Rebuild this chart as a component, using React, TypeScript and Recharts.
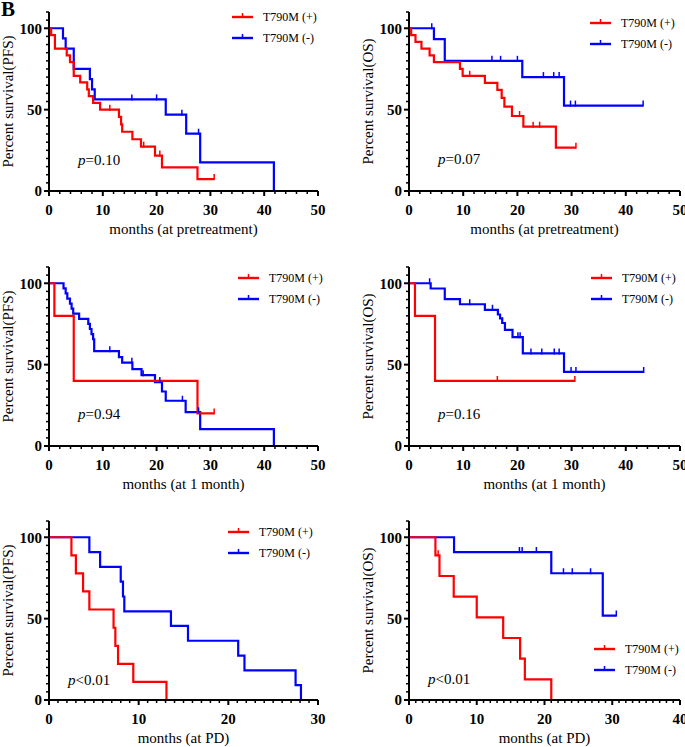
import React from 'react';
import { LineChart, Line, XAxis, YAxis } from 'recharts';

// [months, percent surviving, censored (1) or event (0)]
type Pt = [number, number, number];

const seriesNames = ['T790M (+)', 'T790M (-)'];
const yMajor = [0, 50, 100];

// PFS / OS from pretreatment
const pfsPrePos: Pt[] = [
  [0, 100, 0], [0.4, 95.8, 0], [1.1, 87.5, 0], [3.3, 83.3, 0], [3.9, 79.2, 0], [4.6, 70.8, 0],
  [5.8, 66.7, 0], [7.1, 62.5, 0], [7.4, 58.3, 0], [8.2, 54.2, 0], [9.5, 50, 0], [11.3, 50, 1],
  [13.0, 45.5, 0], [13.4, 40.9, 0], [13.6, 36.4, 0], [15.5, 31.8, 0], [17.1, 27.3, 0], [17.6, 27.3, 1],
  [19.7, 21.8, 0], [20.6, 21.8, 1], [21.0, 14.5, 0], [27.6, 7.3, 0], [30.7, 7.3, 1],
];
const pfsPreNeg: Pt[] = [
  [0, 100, 0], [2.6, 93.8, 0], [3.1, 87.5, 0], [4.6, 75, 0], [7.6, 68.8, 0], [8.0, 62.5, 0],
  [8.5, 56.3, 0], [15.4, 56.3, 1], [20.0, 56.3, 1], [21.7, 46.9, 0], [24.7, 46.9, 1], [25.5, 35.2, 0],
  [27.8, 35.2, 1], [28.1, 17.6, 0], [41.8, 0, 0],
];
const osPrePos: Pt[] = [
  [0, 100, 0], [0.4, 95.8, 0], [1.2, 91.7, 0], [2.3, 87.5, 0], [3.8, 83.3, 0], [4.6, 79.2, 0],
  [9.4, 75, 0], [9.9, 70.8, 0], [11.2, 70.8, 1], [14.0, 66.5, 0], [16.3, 62.2, 0], [17.1, 57.2, 0],
  [17.6, 51.9, 0], [19.0, 46.1, 0], [20.4, 46.1, 1], [21.1, 39.5, 0], [22.9, 39.5, 1], [24.1, 39.5, 1],
  [27.1, 26.6, 0], [30.8, 26.6, 1],
];
const osPreNeg: Pt[] = [
  [0, 100, 0], [4.2, 100, 1], [4.6, 93.3, 0], [6.6, 80, 0], [15.3, 80, 1], [16.9, 80, 1], [20.0, 80, 1],
  [20.9, 70, 0], [24.8, 70, 1], [26.7, 70, 1], [27.7, 70, 1], [28.6, 52.5, 0], [29.8, 52.5, 1],
  [30.7, 52.5, 1], [43.2, 52.5, 1],
];

// PFS / OS from 1 month
const pfs1mPos: Pt[] = [
  [0, 100, 0], [1.0, 80, 0], [4.6, 40, 0], [27.6, 20, 0], [30.7, 20, 1],
];
const pfs1mNeg: Pt[] = [
  [0, 100, 0], [2.7, 96.9, 0], [3.1, 93.8, 0], [3.4, 90.6, 0], [3.9, 87.5, 0], [4.2, 84.4, 0],
  [4.5, 81.3, 0], [5.6, 78.1, 0], [7.3, 75, 0], [7.6, 71.9, 0], [7.9, 68.8, 0], [8.2, 65.6, 0],
  [8.4, 58.3, 0], [11.3, 58.3, 1], [13.0, 54.6, 0], [13.6, 51.2, 0], [15.4, 51.2, 1], [15.5, 47.2, 0],
  [17.2, 43.5, 0], [17.5, 43.5, 1], [19.7, 39.3, 0], [20.6, 39.3, 1], [21.0, 33.5, 0], [21.7, 27.8, 0],
  [24.8, 27.8, 1], [25.4, 20.8, 0], [27.8, 20.8, 1], [28.1, 10.4, 0], [41.8, 0, 0],
];
const os1mPos: Pt[] = [
  [0, 100, 0], [1.1, 80, 0], [4.8, 40, 0], [16.3, 40, 1], [30.6, 40, 1],
];
const os1mNeg: Pt[] = [
  [0, 100, 0], [3.8, 100, 1], [4.0, 96.8, 0], [6.6, 90.3, 0], [9.4, 87.1, 0], [11.2, 87.1, 1],
  [14.0, 83.7, 0], [15.4, 83.7, 1], [16.4, 80.8, 0], [16.8, 78.4, 0], [17.2, 75.6, 0], [17.7, 71.4, 0],
  [19.1, 66.9, 0], [20.1, 66.9, 1], [20.5, 66.9, 1], [21.0, 56.9, 0], [22.5, 56.9, 1], [24.5, 56.9, 1],
  [26.8, 56.9, 1], [27.7, 56.9, 1], [28.6, 45.5, 0], [29.9, 45.5, 1], [30.8, 45.5, 1], [43.3, 45.5, 1],
];

// PFS / OS from PD
const pfsPdPos: Pt[] = [
  [0, 100, 0], [2.5, 88.9, 0], [3.0, 77.8, 0], [3.8, 66.7, 0], [4.5, 55.6, 0], [7.2, 44.4, 0],
  [7.4, 33.3, 0], [7.7, 22.2, 0], [9.4, 11.1, 0], [13.1, 0, 0],
];
const pfsPdNeg: Pt[] = [
  [0, 100, 0], [4.5, 90.9, 0], [5.7, 81.8, 0], [8.0, 72.7, 0], [8.25, 63.6, 0], [8.4, 54.5, 0],
  [13.6, 45.5, 0], [15.5, 36.4, 0], [21.1, 27.3, 0], [21.8, 18.2, 0], [27.5, 9.1, 0], [28.1, 0, 0],
];
const osPdPos: Pt[] = [
  [0, 100, 0], [3.9, 88.9, 0], [4.3, 88.9, 1], [4.5, 76.2, 0], [6.6, 63.5, 0], [10.0, 50.8, 0],
  [13.9, 38.1, 0], [16.4, 25.4, 0], [17.1, 12.7, 0], [21.0, 0, 0],
];
const osPdNeg: Pt[] = [
  [0, 100, 0], [6.65, 90.9, 0], [16.3, 90.9, 1], [16.7, 90.9, 1], [18.8, 90.9, 1], [21.0, 77.9, 0],
  [22.8, 77.9, 1], [24.1, 77.9, 1], [26.8, 77.9, 1], [28.6, 51.9, 0], [30.6, 51.9, 1],
];

const FONT = "'Liberation Serif', 'Times New Roman', Times, serif";
const RED = '#ff0000';
const BLUE = '#0000ff';

const range = (max: number, step: number) => {
  const out: number[] = [];
  for (let v = 0; v <= max + 1e-9; v += step) out.push(v);
  return out;
};
const toRows = (pts: Pt[]) => pts.map(([t, s, c]) => ({ t, s, c }));

const YTick = (props: any) => {
  const { x, y, payload } = props;
  const v = payload.value;
  const major = yMajor.includes(v);
  return (
    <g>
      <line x1={x - (major ? 5 : 3)} x2={x} y1={y} y2={y} stroke="#000" strokeWidth={major ? 2 : 1.5} />
      {major && (
        <text x={x - 7} y={y} dy="0.36em" textAnchor="end" fontFamily={FONT} fontWeight="bold" fontSize={15} fill="#000">
          {v}
        </text>
      )}
    </g>
  );
};

const XTick = (props: any) => {
  const { x, y, payload } = props;
  const v = payload.value;
  const major = v % 10 === 0;
  return (
    <g>
      <line x1={x} x2={x} y1={y} y2={y + (major ? 5 : 3)} stroke="#000" strokeWidth={major ? 2 : 1.5} />
      {major && (
        <text x={x} y={y + 24} textAnchor="middle" fontFamily={FONT} fontWeight="bold" fontSize={15} fill="#000">
          {v}
        </text>
      )}
    </g>
  );
};

const censorDot = (color: string) => (props: any) => {
  const { cx, cy, payload, index } = props;
  if (!payload || !payload.c) return <g key={`d${index}`} />;
  return <line key={`d${index}`} x1={cx} x2={cx} y1={cy - 5} y2={cy + 1} stroke={color} strokeWidth={1.5} />;
};

type PanelProps = {
  left: number;
  top: number;
  width: number;
  pos: Pt[];
  neg: Pt[];
  xMax: number;
  xStep: number;
  yLabel: string;
  xLabel: string;
  pSign: string;
  pX: number;
  pY: number;
  legX: number;
  legY: number;
};

const Panel = ({ left, top, width, pos, neg, xMax, xStep, yLabel, xLabel, pSign, pX, pY, legX, legY }: PanelProps) => {
  const plotW = width === 340 ? 269 : 271;
  const yW = 49;
  return (
    <div style={{ position: 'absolute', left, top, width, height: 240 }}>
      <LineChart width={width} height={240} margin={{ top: 12, right: width - yW - plotW, bottom: 0, left: 0 }}>
        <XAxis
          type="number"
          dataKey="t"
          domain={[0, xMax]}
          ticks={range(xMax, xStep)}
          interval={0}
          allowDataOverflow
          height={49}
          tickSize={0}
          tickMargin={0}
          tickLine={false}
          axisLine={{ stroke: '#000', strokeWidth: 2 }}
          tick={XTick}
          label={(p: any) => {
            const vb = p.viewBox;
            return (
              <text x={vb.x + vb.width / 2} y={vb.y + 43} textAnchor="middle" fontFamily={FONT} fontSize={15} fill="#000">
                {xLabel}
              </text>
            );
          }}
        />
        <YAxis
          type="number"
          domain={[0, 110]}
          ticks={range(110, 5)}
          interval={0}
          width={yW}
          tickSize={0}
          tickMargin={0}
          tickLine={false}
          axisLine={{ stroke: '#000', strokeWidth: 2 }}
          tick={YTick}
          label={(p: any) => {
            const vb = p.viewBox;
            const lx = vb.x + vb.width - 36;
            const ly = vb.y + vb.height / 2;
            return (
              <text x={lx} y={ly} transform={`rotate(-90 ${lx} ${ly})`} textAnchor="middle" fontFamily={FONT} fontSize={15} fill="#000">
                {yLabel}
              </text>
            );
          }}
        />
        <Line
          data={toRows(neg)}
          dataKey="s"
          type="stepAfter"
          stroke={BLUE}
          strokeWidth={2.2}
          dot={censorDot(BLUE)}
          activeDot={false}
          isAnimationActive={false}
        />
        <Line
          data={toRows(pos)}
          dataKey="s"
          type="stepAfter"
          stroke={RED}
          strokeWidth={2.2}
          dot={censorDot(RED)}
          activeDot={false}
          isAnimationActive={false}
        />
      </LineChart>
      {[RED, BLUE].map((c, i) => (
        <div key={c} style={{ position: 'absolute', left: legX, top: legY + i * 21 - 6, height: 12, display: 'flex', alignItems: 'center' }}>
          <svg width={21} height={12} style={{ display: 'block' }}>
            <line x1={0} x2={21} y1={6} y2={6} stroke={c} strokeWidth={2.4} />
            <line x1={10.5} x2={10.5} y1={2} y2={6} stroke={c} strokeWidth={1.5} />
          </svg>
          <span style={{ marginLeft: 10, fontFamily: FONT, fontSize: 12, lineHeight: '12px', whiteSpace: 'nowrap', color: '#000' }}>
            {seriesNames[i]}
          </span>
        </div>
      ))}
      <div style={{ position: 'absolute', left: pX, top: pY - 12.6, fontFamily: FONT, fontSize: 15, lineHeight: '15px', whiteSpace: 'nowrap', color: '#000' }}>
        <i>p</i>
        {pSign}
      </div>
    </div>
  );
};

export default function App() {
  return (
    <div style={{ position: 'absolute', left: 0, top: 0, width: 685, height: 747, background: '#fff', overflow: 'hidden' }}>
      <div style={{ position: 'absolute', left: 1, top: -1, fontFamily: FONT, fontWeight: 'bold', fontSize: 21, lineHeight: '21px' }}>B</div>
      <Panel left={0} top={0} width={340} pos={pfsPrePos} neg={pfsPreNeg} xMax={50} xStep={2}
        yLabel="Percent survival(PFS)" xLabel="months (at pretreatment)" pSign="=0.10" pX={78} pY={166} legX={232} legY={17} />
      <Panel left={360} top={0} width={325} pos={osPrePos} neg={osPreNeg} xMax={50} xStep={2}
        yLabel="Percent survival(OS)" xLabel="months (at pretreatment)" pSign="=0.07" pX={78} pY={165} legX={230} legY={23} />
      <Panel left={0} top={255} width={340} pos={pfs1mPos} neg={pfs1mNeg} xMax={50} xStep={2}
        yLabel="Percent survival(PFS)" xLabel="months (at 1 month)" pSign="=0.94" pX={78} pY={165} legX={238} legY={23} />
      <Panel left={360} top={255} width={325} pos={os1mPos} neg={os1mNeg} xMax={50} xStep={2}
        yLabel="Percent survival(OS)" xLabel="months (at 1 month)" pSign="=0.16" pX={78} pY={165} legX={231} legY={23} />
      <Panel left={0} top={509} width={340} pos={pfsPdPos} neg={pfsPdNeg} xMax={30} xStep={1}
        yLabel="Percent survival(PFS)" xLabel="months (at PD)" pSign="<0.01" pX={68} pY={177} legX={228} legY={23} />
      <Panel left={360} top={509} width={325} pos={osPdPos} neg={osPdNeg} xMax={40} xStep={1}
        yLabel="Percent survival(OS)" xLabel="months (at PD)" pSign="<0.01" pX={68} pY={176} legX={234} legY={140} />
    </div>
  );
}
